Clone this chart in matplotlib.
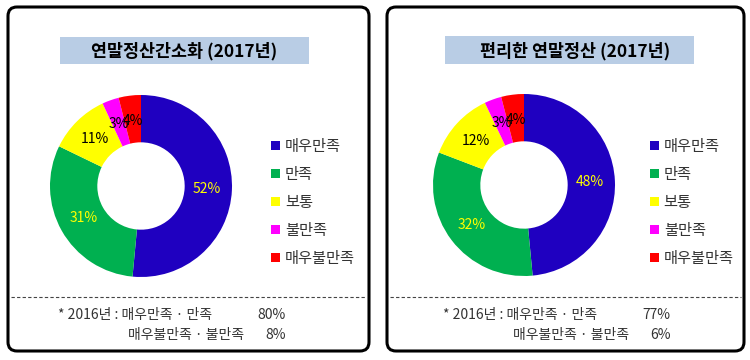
import matplotlib
matplotlib.use("Agg")
import matplotlib.pyplot as plt
from matplotlib.patches import FancyBboxPatch, Rectangle
import numpy as np

plt.rcParams['font.family'] = ['Noto Sans CJK KR', 'DejaVu Sans']

# ---- data ----
categories = ['매우만족', '만족', '보통', '불만족', '매우불만족']
colors = ['#1F00C0', '#00B050', '#FFFF00', '#FF00FF', '#FF0000']
label_colors = ['#FFFF00', '#FFFF00', 'black', 'black', 'black']

left_title = '연말정산간소화 (2017년)'
left_values = [52, 31, 11, 3, 4]
left_note = ['80%', '8%']

right_title = '편리한 연말정산 (2017년)'
right_values = [48, 32, 12, 3, 4]
right_note = ['77%', '6%']

W, H = 750, 360
fig = plt.figure(figsize=(W / 100, H / 100), dpi=100)

# background axes in pixel units
bg = fig.add_axes([0, 0, 1, 1])
bg.set_xlim(0, W)
bg.set_ylim(H, 0)
bg.axis('off')


def panel(x0, x1, title, title_box, title_x, values, note, cx, cy, leg_x, note_x):
    # frame
    box = FancyBboxPatch((x0, 7), x1 - x0, 344, boxstyle='round,pad=0,rounding_size=9',
                         fc='white', ec='black', lw=2.2)
    bg.add_patch(box)
    # title
    bx, by, bw, bh = title_box
    bg.add_patch(Rectangle((bx, by), bw, bh, fc='#B9CDE5', ec='none'))
    bg.text(title_x, by + bh / 2 + 1, title, ha='center', va='center',
            fontsize=12.5, fontweight='bold', color='black')
    # dashed separator
    bg.plot([x0 + 3, x1 - 3], [297, 297], ls=(0, (3, 2)), color='#444444', lw=0.8)
    # footnote
    fc = '#333333'
    bg.text(note_x, 315, '* 2016년 : 매우만족 · 만족', ha='left', va='center', fontsize=10, color=fc)
    bg.text(note_x + 199, 315, note[0], ha='left', va='center', fontsize=10, color=fc)
    bg.text(note_x + 70, 335, '매우불만족 · 불만족', ha='left', va='center', fontsize=10, color=fc)
    bg.text(note_x + 207, 335, note[1], ha='left', va='center', fontsize=10, color=fc)

    # donut
    r = 91
    ax = fig.add_axes([(cx - r) / W, (H - cy - r) / H, 2 * r / W, 2 * r / H])
    wedges, _ = ax.pie(values, colors=colors, startangle=90, counterclock=False,
                       radius=1, wedgeprops=dict(width=0.52, linewidth=0))
    ax.set_xlim(-1, 1)
    ax.set_ylim(-1, 1)
    ax.axis('off')
    for w, v, c in zip(wedges, values, label_colors):
        ang = np.deg2rad((w.theta1 + w.theta2) / 2)
        ax.text(0.72 * np.cos(ang), 0.72 * np.sin(ang), f'{v}%', ha='center', va='center',
                fontsize=10, color=c)

    # legend
    fig.legend(wedges, categories, loc='upper left', frameon=False,
               bbox_to_anchor=(leg_x / W, 1 - 138 / H), borderpad=0, borderaxespad=0,
               handlelength=0.6, handleheight=0.6, handletextpad=0.3,
               labelspacing=0.72, fontsize=11, labelcolor='#333333')


panel(8, 369, left_title, (60, 37, 249, 27), 184, left_values, left_note, 141, 186, 271, 58)
panel(387, 744, right_title, (445, 36, 249, 28), 575, right_values, right_note, 524, 185, 650, 443)

fig.savefig('out.png', dpi=100)
